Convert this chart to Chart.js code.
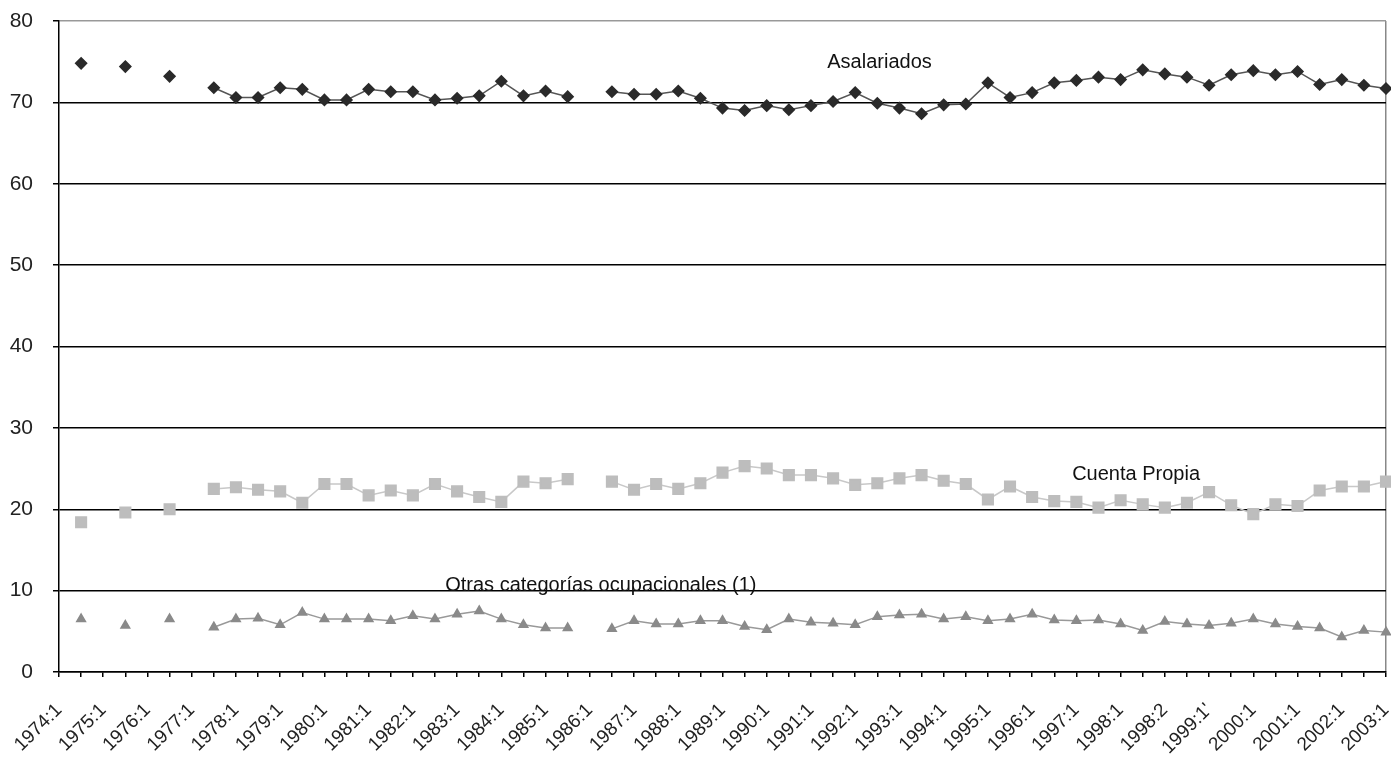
<!DOCTYPE html>
<html>
<head>
<meta charset="utf-8">
<script src="https://cdn.jsdelivr.net/npm/chart.js@4.4.1/dist/chart.umd.min.js"></script>
<style>
  html, body { margin: 0; padding: 0; background: #fff; }
  #wrap { width: 1391px; height: 758px; }
</style>
</head>
<body>
<div id="wrap"><canvas id="grafico"></canvas></div>
<script>
// Etiquetas del eje X (una cada dos categorías)
const etiquetasEje = [
  "1974:1", "1975:1", "1976:1", "1977:1", "1978:1", "1979:1", "1980:1", "1981:1",
  "1982:1", "1983:1", "1984:1", "1985:1", "1986:1", "1987:1", "1988:1", "1989:1",
  "1990:1", "1991:1", "1992:1", "1993:1", "1994:1", "1995:1", "1996:1", "1997:1",
  "1998:1", "1998:2", "1999:1'", "2000:1", "2001:1", "2002:1", "2003:1"
];

// Series (porcentaje del empleo), 61 categorías; null = sin dato
const asalariados = [
  null, 74.8, null, 74.4, null, 73.2, null, 71.8, 70.6, 70.6,
  71.8, 71.6, 70.3, 70.3, 71.6, 71.3, 71.3, 70.3, 70.5, 70.8,
  72.6, 70.8, 71.4, 70.7, null, 71.3, 71.0, 71.0, 71.4, 70.5,
  69.3, 69.0, 69.6, 69.1, 69.6, 70.1, 71.2, 69.9, 69.3, 68.6,
  69.7, 69.8, 72.4, 70.6, 71.2, 72.4, 72.7, 73.1, 72.8, 74.0,
  73.5, 73.1, 72.1, 73.4, 73.9, 73.4, 73.8, 72.2, 72.8, 72.1,
  71.7
];
const cuentaPropia = [
  null, 18.4, null, 19.6, null, 20.0, null, 22.5, 22.7, 22.4,
  22.2, 20.8, 23.1, 23.1, 21.7, 22.3, 21.7, 23.1, 22.2, 21.5,
  20.9, 23.4, 23.2, 23.7, null, 23.4, 22.4, 23.1, 22.5, 23.2,
  24.5, 25.3, 25.0, 24.2, 24.2, 23.8, 23.0, 23.2, 23.8, 24.2,
  23.5, 23.1, 21.2, 22.8, 21.5, 21.0, 20.9, 20.2, 21.1, 20.6,
  20.2, 20.8, 22.1, 20.5, 19.4, 20.6, 20.4, 22.3, 22.8, 22.8,
  23.4
];
const otras = [
  null, 6.5, null, 5.7, null, 6.5, null, 5.5, 6.5, 6.6,
  5.8, 7.3, 6.5, 6.5, 6.5, 6.3, 6.9, 6.5, 7.1, 7.5,
  6.5, 5.8, 5.4, 5.4, null, 5.3, 6.3, 5.9, 5.9, 6.3,
  6.3, 5.6, 5.2, 6.5, 6.1, 6.0, 5.8, 6.8, 7.0, 7.1,
  6.5, 6.8, 6.3, 6.5, 7.1, 6.4, 6.3, 6.4, 5.9, 5.1,
  6.2, 5.9, 5.7, 6.0, 6.5, 5.9, 5.6, 5.4, 4.3, 5.1,
  4.9
];

// Categorías: cada etiqueta visible seguida de una categoría sin rótulo
const categorias = [];
etiquetasEje.forEach((et, i) => {
  categorias.push(et);
  if (i < etiquetasEje.length - 1) categorias.push("");
});

// Rótulos de las series dentro del gráfico
const rotulos = [
  { texto: "Asalariados", x: 37.1, y: 74.9 },
  { texto: "Cuenta Propia", x: 48.7, y: 24.3 },
  { texto: "Otras categorías ocupacionales (1)", x: 24.5, y: 10.6 }
];

const fuente = "'Liberation Sans', Arial, sans-serif";

const pluginRotulos = {
  id: "rotulos",
  afterDatasetsDraw(chart) {
    const c = chart.ctx;
    const sx = chart.scales.x;
    const sy = chart.scales.y;
    c.save();
    c.font = "20px " + fuente;
    c.fillStyle = "#111";
    c.textAlign = "center";
    c.textBaseline = "middle";
    rotulos.forEach((r) => {
      c.fillText(r.texto, sx.getPixelForValue(r.x), sy.getPixelForValue(r.y));
    });
    c.restore();
  }
};

const ctx = document.getElementById("grafico").getContext("2d");
new Chart(ctx, {
  type: "line",
  data: {
    labels: categorias,
    datasets: [
      {
        label: "Asalariados",
        data: asalariados,
        borderColor: "#555",
        pointBackgroundColor: "#2a2a2a",
        pointBorderColor: "#2a2a2a",
        pointStyle: "rectRot",
        pointRadius: 5.5,
        borderWidth: 1.5,
        spanGaps: false,
        tension: 0,
        clip: false
      },
      {
        label: "Cuenta Propia",
        data: cuentaPropia,
        borderColor: "#c8c8c8",
        pointBackgroundColor: "#bdbdbd",
        pointBorderColor: "#bdbdbd",
        pointStyle: "rect",
        pointRadius: 7.5,
        borderWidth: 1.5,
        spanGaps: false,
        tension: 0,
        clip: false
      },
      {
        label: "Otras categorías ocupacionales (1)",
        data: otras,
        borderColor: "#999",
        pointBackgroundColor: "#8a8a8a",
        pointBorderColor: "#8a8a8a",
        pointStyle: "triangle",
        pointRadius: 5,
        borderWidth: 1.5,
        spanGaps: false,
        tension: 0,
        clip: false
      }
    ]
  },
  options: {
    responsive: true,
    maintainAspectRatio: false,
    animation: false,
    layout: {
      autoPadding: false,
      padding: { top: 21, right: 5, left: 0, bottom: 0 }
    },
    plugins: {
      legend: { display: false },
      tooltip: { enabled: false }
    },
    scales: {
      x: {
        type: "category",
        offset: false,
        afterFit: (scale) => {
          scale.height = 86;
          scale.paddingLeft = 0;
          scale.paddingRight = 0;
        },
        grid: {
          drawOnChartArea: true,
          color: (c) => (c.index === categorias.length - 1 ? "#888" : "rgba(0,0,0,0)"),
          tickColor: "#000",
          tickLength: 5,
          lineWidth: 1.5
        },
        border: { display: true, color: "#000", width: 1.5 },
        ticks: {
          autoSkip: false,
          maxRotation: 45,
          minRotation: 45,
          padding: 22,
          color: "#222",
          font: { family: fuente, size: 19 }
        }
      },
      y: {
        min: 0,
        max: 80,
        afterFit: (scale) => {
          scale.width = 59;
          scale.paddingTop = 0;
          scale.paddingBottom = 0;
        },
        grid: {
          color: (c) => (c.tick.value === 80 ? "#999" : "#000"),
          tickColor: "#000",
          tickLength: 6,
          lineWidth: 1.5
        },
        border: { display: true, color: "#000", width: 1.5 },
        ticks: {
          stepSize: 10,
          padding: 20,
          color: "#222",
          font: { family: fuente, size: 21 }
        }
      }
    }
  },
  plugins: [pluginRotulos]
});
</script>
</body>
</html>
